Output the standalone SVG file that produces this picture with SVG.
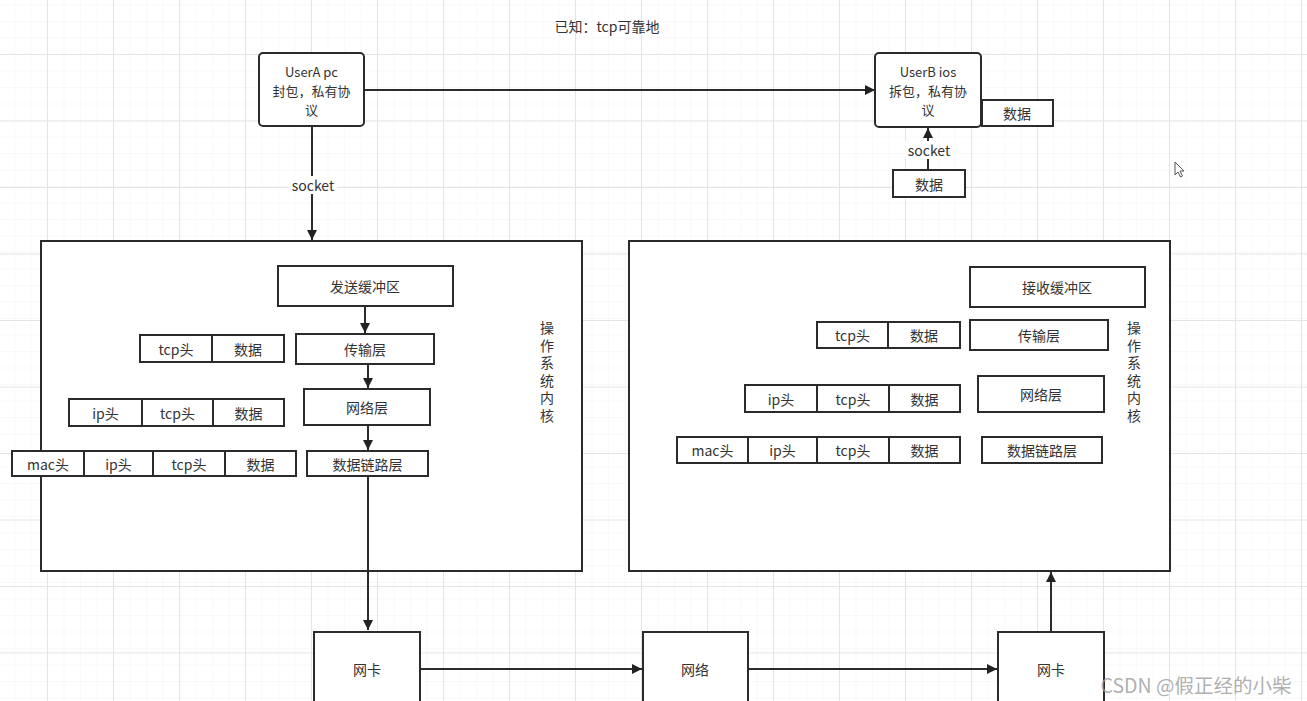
<svg xmlns="http://www.w3.org/2000/svg" width="1307" height="701" viewBox="0 0 1307 701">
<defs>
<pattern id="minor" x="47" y="54" width="16.5" height="16.5" patternUnits="userSpaceOnUse">
<path d="M0 0H16.5M0 0V16.5" fill="none" stroke="#f3f3f5" stroke-width="1"/>
</pattern>
<pattern id="major" x="47" y="54" width="66" height="66.5" patternUnits="userSpaceOnUse">
<path d="M0 0.5H66M0.5 0V66.5" fill="none" stroke="#e4e4e8" stroke-width="1"/>
</pattern>
<marker id="arr" viewBox="0 0 10 10" refX="10" refY="5" markerWidth="10" markerHeight="10" markerUnits="userSpaceOnUse" orient="auto">
<path d="M0 0L10 5L0 10Z" fill="#222"/>
</marker>
</defs>
<style>
.b{fill:#fff;stroke:#2b2b2b;stroke-width:2}
.t{font-family:"Noto Sans CJK SC","Noto Sans",sans-serif;font-size:14px;fill:#333;text-anchor:middle;dominant-baseline:central}
.u{font-size:13px}
.c{fill:none;stroke:#2b2b2b;stroke-width:2}
</style>
<rect width="1307" height="701" fill="#fff"/>
<rect width="1307" height="701" fill="url(#minor)"/>
<rect width="1307" height="701" fill="url(#major)"/>

<text class="t" x="607" y="26">已知：tcp可靠地</text>

<g id="kernelA"><rect class="b" x="41" y="241" width="541" height="330"/>
<text class="t" x="547" y="327">操</text><text class="t" x="547" y="344.5">作</text><text class="t" x="547" y="362">系</text><text class="t" x="547" y="379.5">统</text><text class="t" x="547" y="397">内</text><text class="t" x="547" y="414.5">核</text></g>
<g id="kernelB"><rect class="b" x="629" y="241" width="541" height="330"/>
<text class="t" x="1134" y="327">操</text><text class="t" x="1134" y="344.5">作</text><text class="t" x="1134" y="362">系</text><text class="t" x="1134" y="379.5">统</text><text class="t" x="1134" y="397">内</text><text class="t" x="1134" y="414.5">核</text></g>

<g id="connectors">
<path class="c" d="M364 90H875" marker-end="url(#arr)"/>
<path class="c" d="M312 127V240" marker-end="url(#arr)"/>
<path class="c" d="M928 170V128" marker-end="url(#arr)"/>
<path class="c" d="M365 306V333" marker-end="url(#arr)"/>
<path class="c" d="M368 364V388" marker-end="url(#arr)"/>
<path class="c" d="M368 425V450" marker-end="url(#arr)"/>
<path class="c" d="M368 476V630" marker-end="url(#arr)"/>
<path class="c" d="M420 669H642" marker-end="url(#arr)"/>
<path class="c" d="M748 669H997" marker-end="url(#arr)"/>
<path class="c" d="M1051 631V572" marker-end="url(#arr)"/>
<rect x="289" y="176" width="48" height="18" fill="#fff"/>
<text class="t" x="313" y="185">socket</text>
<rect x="905" y="141" width="48" height="18" fill="#fff"/>
<text class="t" x="929" y="150">socket</text>
</g>

<g id="userA"><rect class="b" x="259" y="53" width="105" height="73" rx="4"/>
<text class="t u" x="311.5" y="71">UserA pc</text><text class="t u" x="311.5" y="90">封包，私有协</text><text class="t u" x="311.5" y="109">议</text></g>
<g id="userB"><rect class="b" x="875" y="53" width="106" height="74" rx="4"/>
<text class="t u" x="928" y="71">UserB ios</text><text class="t u" x="928" y="90">拆包，私有协</text><text class="t u" x="928" y="109">议</text></g>
<g id="dataB1"><rect class="b" x="982" y="100" width="71" height="26"/><text class="t" x="1017" y="113">数据</text></g>
<g id="dataB2"><rect class="b" x="893" y="170" width="72" height="27"/><text class="t" x="929" y="183.5">数据</text></g>

<g id="sendBuf"><rect class="b" x="278" y="266" width="175" height="40"/><text class="t" x="365" y="286">发送缓冲区</text></g>
<g id="transA"><rect class="b" x="296" y="334" width="138" height="30"/><text class="t" x="365" y="349">传输层</text></g>
<g id="netA"><rect class="b" x="304" y="389" width="126" height="36"/><text class="t" x="367" y="407">网络层</text></g>
<g id="linkA"><rect class="b" x="307" y="451" width="121" height="25"/><text class="t" x="367.5" y="463.5">数据链路层</text></g>

<g id="pktA1">
<rect class="b" x="140" y="335" width="72" height="27"/><text class="t" x="176" y="348.5">tcp头</text>
<rect class="b" x="212" y="335" width="72" height="27"/><text class="t" x="248" y="348.5">数据</text></g>
<g id="pktA2">
<rect class="b" x="69" y="399" width="73" height="27"/><text class="t" x="105.5" y="412.5">ip头</text>
<rect class="b" x="142" y="399" width="71" height="27"/><text class="t" x="177.5" y="412.5">tcp头</text>
<rect class="b" x="213" y="399" width="71" height="27"/><text class="t" x="248.5" y="412.5">数据</text></g>
<g id="pktA3">
<rect class="b" x="12" y="451" width="72" height="25"/><text class="t" x="48" y="463.5">mac头</text>
<rect class="b" x="84" y="451" width="69" height="25"/><text class="t" x="118.5" y="463.5">ip头</text>
<rect class="b" x="153" y="451" width="72" height="25"/><text class="t" x="189" y="463.5">tcp头</text>
<rect class="b" x="225" y="451" width="71" height="25"/><text class="t" x="260.5" y="463.5">数据</text></g>

<g id="recvBuf"><rect class="b" x="970" y="267" width="175" height="40"/><text class="t" x="1057" y="287">接收缓冲区</text></g>
<g id="transB"><rect class="b" x="970" y="320" width="138" height="30"/><text class="t" x="1039" y="335">传输层</text></g>
<g id="netB"><rect class="b" x="978" y="376" width="126" height="36"/><text class="t" x="1041" y="394">网络层</text></g>
<g id="linkB"><rect class="b" x="982" y="437" width="120" height="26"/><text class="t" x="1042" y="450">数据链路层</text></g>

<g id="pktB1">
<rect class="b" x="817" y="322" width="71" height="26"/><text class="t" x="852.5" y="335">tcp头</text>
<rect class="b" x="888" y="322" width="72" height="26"/><text class="t" x="924" y="335">数据</text></g>
<g id="pktB2">
<rect class="b" x="745" y="385" width="72" height="27"/><text class="t" x="781" y="398.5">ip头</text>
<rect class="b" x="817" y="385" width="72" height="27"/><text class="t" x="853" y="398.5">tcp头</text>
<rect class="b" x="889" y="385" width="71" height="27"/><text class="t" x="924.5" y="398.5">数据</text></g>
<g id="pktB3">
<rect class="b" x="677" y="437" width="71" height="26"/><text class="t" x="712.5" y="450">mac头</text>
<rect class="b" x="748" y="437" width="69" height="26"/><text class="t" x="782.5" y="450">ip头</text>
<rect class="b" x="817" y="437" width="72" height="26"/><text class="t" x="853" y="450">tcp头</text>
<rect class="b" x="889" y="437" width="71" height="26"/><text class="t" x="924.5" y="450">数据</text></g>

<g id="nicA"><rect class="b" x="314" y="632" width="106" height="80"/><text class="t" x="367" y="669">网卡</text></g>
<g id="network"><rect class="b" x="643" y="632" width="105" height="80"/><text class="t" x="695" y="669">网络</text></g>
<g id="nicB"><rect class="b" x="998" y="632" width="106" height="80"/><text class="t" x="1051" y="669">网卡</text></g>

<path d="M1175 162V175L1178 172L1180.5 177L1182.5 176L1180 171L1184 171Z" fill="#fff" stroke="#555" stroke-width="1"/>
<text x="1196" y="684" font-family="'Noto Sans CJK SC','Noto Sans',sans-serif" font-size="19.5" fill="#9a9a9a" fill-opacity="0.8" text-anchor="middle" dominant-baseline="central">CSDN @假正经的小柴</text>
</svg>
